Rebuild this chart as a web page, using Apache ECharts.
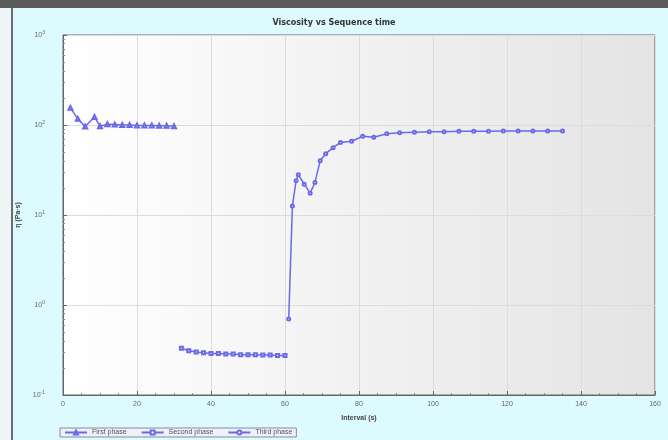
<!DOCTYPE html>
<html>
<head>
<meta charset="utf-8">
<script src="https://cdn.jsdelivr.net/npm/echarts@6/dist/echarts.min.js"></script>
<style>
  html, body { margin: 0; padding: 0; background: #fff; }
  #main { width: 668px; height: 440px; }
</style>
</head>
<body>
<div id="main"></div>
<script>
// 数据：三个阶段的粘度随时间变化
var firstX  = [2, 4, 6, 8.5, 10, 12, 14, 16, 18, 20, 22, 24, 26, 28, 30];
var firstY  = [155, 117, 96, 123, 97, 102, 101, 100, 100, 99, 99, 99, 98, 98, 97];

var secondX = [32, 34, 36, 38, 40, 42, 44, 46, 48, 50, 52, 54, 56, 58, 60];
var secondY = [0.33, 0.31, 0.30, 0.295, 0.29, 0.29, 0.285, 0.285, 0.28, 0.28, 0.28, 0.278, 0.278, 0.275, 0.275];

var thirdX  = [61, 62, 63, 63.6, 65.2, 66.8, 68.1, 69.5, 71, 73, 75, 78, 81, 84, 87.5, 91, 95, 99, 103, 107, 111, 115, 119, 123, 127, 131, 135];
var thirdY  = [0.7, 12.6, 24, 28, 22, 17.5, 23, 40, 48, 56, 64, 66, 75, 73, 80, 82, 83, 84, 84, 85, 85, 85, 86, 86, 86, 86, 86];

function pairs(xs, ys) {
    var out = [];
    for (var i = 0; i < xs.length; i++) out.push([xs[i], ys[i]]);
    return out;
}

var lineColor = '#6a6ae8';

var myChart = echarts.init(document.getElementById('main'));

var option = {
    animation: false,
    backgroundColor: '#ddfbff',
    graphic: [
        { type: 'rect', left: 0, top: 0, shape: { width: 668, height: 8 }, style: { fill: '#5a5a5a' }, silent: true },
        { type: 'rect', left: 0, top: 8, shape: { width: 11, height: 432 }, style: { fill: '#eef6f7' }, silent: true },
        { type: 'rect', left: 11, top: 8, shape: { width: 2, height: 432 }, style: { fill: '#6c6c6c' }, silent: true }
    ],
    title: {
        text: 'Viscosity vs Sequence time',
        left: 'center',
        top: 14,
        textStyle: { fontSize: 8, fontWeight: 'bold', color: '#333', fontFamily: 'DejaVu Sans' }
    },
    legend: {
        left: 60,
        bottom: 3,
        itemWidth: 22,
        itemHeight: 5,
        itemGap: 14,
        padding: [1, 4],
        borderColor: '#8a8a9a',
        borderWidth: 1,
        backgroundColor: '#eef0fa',
        textStyle: { fontSize: 7, color: '#555' },
        data: ['First phase', 'Second phase', 'Third phase']
    },
    grid: {
        left: 63,
        right: 13,
        top: 35,
        bottom: 45,
        show: true,
        borderColor: '#666',
        borderWidth: 1,
        backgroundColor: {
            type: 'linear', x: 0, y: 0, x2: 1, y2: 0,
            colorStops: [{ offset: 0, color: '#ffffff' }, { offset: 1, color: '#e4e4e4' }]
        }
    },
    xAxis: {
        type: 'value',
        min: 0,
        max: 160,
        interval: 20,
        name: 'Interval (s)',
        nameLocation: 'middle',
        nameGap: 20,
        nameTextStyle: { fontSize: 7, fontWeight: 'bold', color: '#444' },
        axisLine: { lineStyle: { color: '#666' } },
        axisTick: { inside: true, length: 4, lineStyle: { color: '#666' } },
        minorTick: { show: true, splitNumber: 4, length: 2, lineStyle: { color: '#888' } },
        axisLabel: { fontSize: 7, color: '#666', margin: 6 },
        splitLine: { show: true, lineStyle: { color: '#dcdcdc' } }
    },
    yAxis: {
        type: 'log',
        logBase: 10,
        min: 0.1,
        max: 1000,
        name: 'η (Pa·s)',
        nameLocation: 'middle',
        nameGap: 40,
        nameTextStyle: { fontSize: 7, fontWeight: 'bold', color: '#444' },
        axisLine: { show: true, lineStyle: { color: '#666' } },
        axisTick: { inside: true, length: 4, lineStyle: { color: '#666' } },
        minorTick: { show: true, splitNumber: 9, length: 2, lineStyle: { color: '#888' } },
        splitLine: { show: true, lineStyle: { color: '#dcdcdc' } },
        axisLabel: {
            fontSize: 7,
            color: '#666',
            margin: 18,
            formatter: function (v) {
                var e = Math.round(Math.log10(v));
                return '10{sup|' + e + '}';
            },
            rich: { sup: { fontSize: 5, color: '#666', verticalAlign: 'top', padding: [0, 0, 5, 0] } }
        }
    },
    series: [
        {
            name: 'First phase',
            type: 'line',
            data: pairs(firstX, firstY),
            symbol: 'emptyTriangle',
            symbolSize: 4,
            itemStyle: { color: lineColor },
            lineStyle: { color: lineColor, width: 1.5 }
        },
        {
            name: 'Second phase',
            type: 'line',
            data: pairs(secondX, secondY),
            symbol: 'emptyRect',
            symbolSize: 3,
            itemStyle: { color: lineColor },
            lineStyle: { color: lineColor, width: 1.5 }
        },
        {
            name: 'Third phase',
            type: 'line',
            data: pairs(thirdX, thirdY),
            symbol: 'emptyCircle',
            symbolSize: 3,
            itemStyle: { color: lineColor },
            lineStyle: { color: lineColor, width: 1.5 }
        }
    ]
};

myChart.setOption(option);
</script>
</body>
</html>
